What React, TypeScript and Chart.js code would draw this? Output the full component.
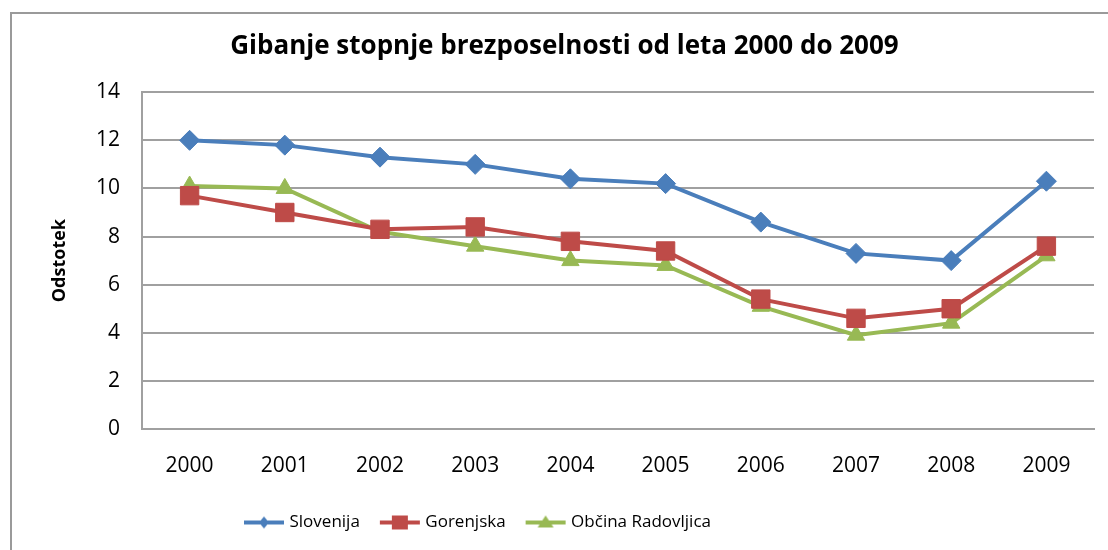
import React, { useEffect, useRef } from "react";
import { Chart, registerables } from "chart.js";

Chart.register(...registerables);

const years = ["2000", "2001", "2002", "2003", "2004", "2005", "2006", "2007", "2008", "2009"];
const slovenija = [12.0, 11.8, 11.3, 11.0, 10.4, 10.2, 8.6, 7.3, 7.0, 10.3];
const gorenjska = [9.7, 9.0, 8.3, 8.4, 7.8, 7.4, 5.4, 4.6, 5.0, 7.6];
const radovljica = [10.1, 10.0, 8.2, 7.6, 7.0, 6.8, 5.1, 3.9, 4.4, 7.2];
const seriesNames = ["Slovenija", "Gorenjska", "Občina Radovljica"];
const titleText = "Gibanje stopnje brezposelnosti od leta 2000 do 2009";
const yTitle = "Odstotek";

const BLUE = "#4A7EBB";
const RED = "#BE4B48";
const GREEN = "#98B954";
const FONT = "'Open Sans', 'DejaVu Sans', sans-serif";

function legendIcon(color: string, style: string): HTMLCanvasElement {
  const c = document.createElement("canvas");
  c.width = 42;
  c.height = 20;
  const ctx = c.getContext("2d")!;
  ctx.strokeStyle = color;
  ctx.fillStyle = color;
  ctx.lineWidth = 4;
  ctx.beginPath();
  ctx.moveTo(1, 10);
  ctx.lineTo(41, 10);
  ctx.stroke();
  const cx = 21, cy = 10;
  ctx.beginPath();
  if (style === "diamond") {
    ctx.moveTo(cx, cy - 6);
    ctx.lineTo(cx + 5, cy);
    ctx.lineTo(cx, cy + 6);
    ctx.lineTo(cx - 5, cy);
  } else if (style === "square") {
    ctx.rect(cx - 8, cy - 7, 16, 14);
  } else {
    ctx.moveTo(cx, cy - 7);
    ctx.lineTo(cx + 8, cy + 5);
    ctx.lineTo(cx - 8, cy + 5);
  }
  ctx.closePath();
  ctx.fill();
  return c;
}

const borderPlugin = {
  id: "outerBorder",
  beforeDraw(chart: any) {
    const ctx = chart.ctx;
    ctx.save();
    ctx.fillStyle = "#ffffff";
    ctx.fillRect(0, 0, chart.width, chart.height);
    ctx.strokeStyle = "#9a9a9a";
    ctx.lineWidth = 2;
    ctx.strokeRect(11, 13, chart.width + 20, chart.height + 20);
    ctx.restore();
  },
};

const boxShift = {
  id: "boxShift",
  afterLayout(chart: any) {
    const lg = chart.legend;
    if (lg) {
      const w = lg.right - lg.left;
      lg.left = 224;
      lg.right = 224 + w;
    }
    const tb = chart.titleBlock;
    if (tb) {
      tb.left += 17;
      tb.right += 17;
    }
  },
};

export default function App() {
  const ref = useRef<HTMLCanvasElement | null>(null);

  useEffect(() => {
    if (!ref.current) return;
    const icons = [
      legendIcon(BLUE, "diamond"),
      legendIcon(RED, "square"),
      legendIcon(GREEN, "triangle"),
    ];
    const chart = new Chart(ref.current, {
      type: "line",
      data: {
        labels: years,
        datasets: [
          {
            label: seriesNames[0],
            data: slovenija,
            borderColor: BLUE,
            backgroundColor: BLUE,
            borderWidth: 4,
            pointStyle: "rectRot",
            pointRadius: 10,
            pointBorderWidth: 1,
            tension: 0,
          },
          {
            label: seriesNames[1],
            data: gorenjska,
            borderColor: RED,
            backgroundColor: RED,
            borderWidth: 4,
            pointStyle: "rect",
            pointRadius: 13,
            pointBorderWidth: 1,
            tension: 0,
          },
          {
            label: seriesNames[2],
            data: radovljica,
            borderColor: GREEN,
            backgroundColor: GREEN,
            borderWidth: 4,
            pointStyle: "triangle",
            pointRadius: 10,
            pointBorderWidth: 1,
            tension: 0,
          },
        ],
      },
      options: {
        animation: false,
        responsive: false,
        events: [],
        layout: { padding: { left: 0, right: 13, top: 0, bottom: 9 } },
        plugins: {
          title: {
            display: true,
            text: titleText,
            color: "#000000",
            font: { family: FONT, size: 26, weight: "bold", lineHeight: 1.2 },
            padding: { top: 31, bottom: 30 },
          },
          legend: {
            position: "bottom",
            align: "start",
            labels: {
              color: "#000000",
              font: { family: FONT, size: 17 },
              usePointStyle: true,
              pointStyleWidth: 34,
              padding: 23,
              generateLabels: () =>
                seriesNames.map((name, i) => ({
                  text: name,
                  pointStyle: icons[i] as any,
                  fillStyle: "transparent",
                  strokeStyle: "transparent",
                  lineWidth: 0,
                  hidden: false,
                  datasetIndex: i,
                  fontColor: "#000000",
                })),
            },
          },
          tooltip: { enabled: false },
        },
        scales: {
          x: {
            offset: true,
            grid: { display: false, drawTicks: false },
            border: { display: true, color: "#a0a0a0", width: 2 },
            ticks: {
              color: "#000000",
              font: { family: FONT, size: 21 },
              padding: 24,
              maxRotation: 0,
            },
            afterFit: (scale: any) => {
              scale.height = 62;
            },
          },
          y: {
            min: 0,
            max: 14,
            ticks: {
              stepSize: 2,
              color: "#000000",
              font: { family: FONT, size: 21 },
              padding: 22,
            },
            grid: { color: "#a0a0a0", lineWidth: 2, drawTicks: false },
            border: { display: true, color: "#a0a0a0", width: 2 },
            title: {
              display: true,
              text: yTitle,
              color: "#000000",
              font: { family: FONT, size: 18, weight: "bold" },
              padding: { top: 49, bottom: 0 },
            },
            afterFit: (scale: any) => {
              scale.width = 142;
            },
          },
        },
      },
      plugins: [borderPlugin, boxShift],
    } as any);
    return () => chart.destroy();
  }, []);

  return (
    <div style={{ position: "fixed", left: 0, top: 0, width: 1108, height: 550, background: "#fff" }}>
      <canvas ref={ref} width={1108} height={550} style={{ display: "block" }} />
    </div>
  );
}
